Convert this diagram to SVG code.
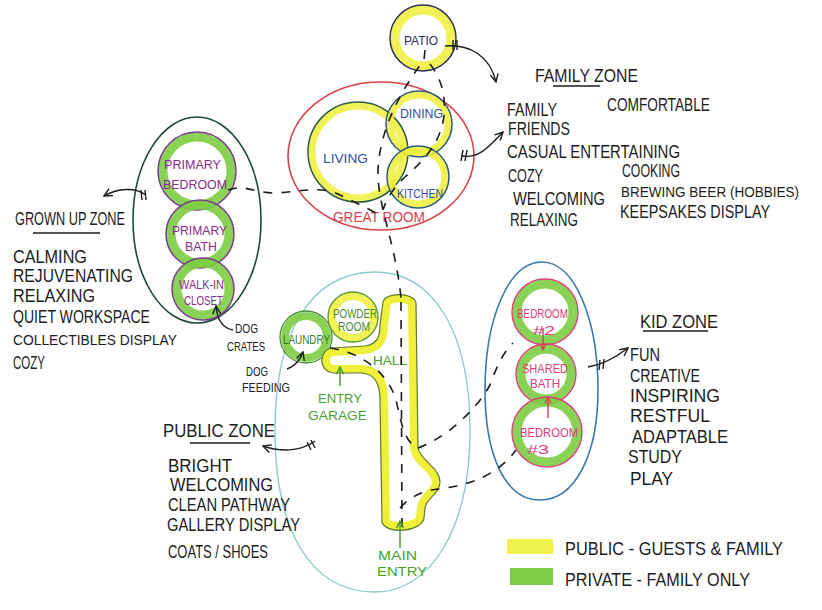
<svg xmlns="http://www.w3.org/2000/svg" width="822" height="610" viewBox="0 0 822 610">
<defs>
<style>
.h{font-family:"Liberation Sans","DejaVu Sans",sans-serif;}
.z{font-size:19px;fill:#1c1c1c;}
.r{font-size:13px;}
.dash{fill:none;stroke:#1c1c1c;stroke-width:1.6;stroke-dasharray:9 9;}
.arr{fill:none;stroke:#1c1c1c;stroke-width:1.4;marker-end:url(#ah);}
.tick{stroke:#1c1c1c;stroke-width:1.4;}
.yel{fill:none;stroke:#eef03a;stroke-opacity:0.85;}
.grn{fill:none;stroke:#7ccd42;stroke-opacity:0.9;}
.ul{stroke:#1c1c1c;stroke-width:1.4;}
</style>
<marker id="ah" viewBox="0 0 10 10" refX="9" refY="5" markerWidth="10" markerHeight="10" markerUnits="userSpaceOnUse" orient="auto"><path d="M1,1 L9,5 L1,9" fill="none" stroke="#1c1c1c" stroke-width="1.4"/></marker>
<marker id="ahr" viewBox="0 0 10 10" refX="9" refY="5" markerWidth="8" markerHeight="8" markerUnits="userSpaceOnUse" orient="auto"><path d="M1,1 L9,5 L1,9" fill="none" stroke="#d84058" stroke-width="1.5"/></marker>
<marker id="ahg" viewBox="0 0 10 10" refX="9" refY="5" markerWidth="9" markerHeight="9" markerUnits="userSpaceOnUse" orient="auto"><path d="M1,1 L9,5 L1,9" fill="none" stroke="#3f9a2c" stroke-width="1.5"/></marker>
<clipPath id="hallclip"><path id="hallp" d="M383,302 C385,292 414,292 416,303 L418,448 C420,460 440,468 440,482 C440,494 426,498 425,508 L424,518 C422,532 386,535 382,522 L380,400 C380,385 376,374 362,373 L335,373 C318,373 318,350 332,348 L365,346 C378,344 380,336 380,325 Z"/></clipPath>
</defs>
<rect width="822" height="610" fill="#ffffff"/>

<g id="public-zone">
<path d="M372,272 C432,270 470,330 470,430 C470,530 430,592 375,592 C310,592 275,530 275,430 C275,330 312,274 372,272 Z" fill="none" stroke="#8ccccc" stroke-width="1.4"/>
</g>
<g id="grownup-zone">
<ellipse cx="197" cy="220" rx="64" ry="103" fill="none" stroke="#1f4a38" stroke-width="1.6"/>
</g>
<g id="kid-zone">
<path d="M542,262 C575,262 598,320 598,390 C598,455 575,500 540,500 C505,500 485,455 485,390 C485,320 508,262 542,262 Z" fill="none" stroke="#3a78b0" stroke-width="1.6"/>
</g>
<g id="great-room">
<ellipse cx="381" cy="156" rx="93" ry="74" fill="none" stroke="#d8404a" stroke-width="1.6"/>
<text class="h" x="333" y="222" fill="#d8404a" font-size="14" textLength="92" lengthAdjust="spacingAndGlyphs">GREAT ROOM</text>
</g>

<g id="patio">
<circle cx="423" cy="38" r="28" class="yel" stroke-width="9"/>
<circle cx="423" cy="38" r="33" fill="none" stroke="#2a2f5a" stroke-width="1.5"/>
<text class="h r" x="404" y="45" fill="#2a2f6a" textLength="34" lengthAdjust="spacingAndGlyphs">PATIO</text>
</g>
<g id="living">
<circle cx="358" cy="152" r="46" class="yel" stroke-width="7"/>
<circle cx="358" cy="152" r="50" fill="none" stroke="#2e5a48" stroke-width="1.5"/>
<text class="h r" x="323" y="163" fill="#2b4fa0" textLength="45" lengthAdjust="spacingAndGlyphs">LIVING</text>
</g>
<g id="dining">
<circle cx="419" cy="124" r="29" class="yel" stroke-width="7"/>
<circle cx="419" cy="124" r="33" fill="none" stroke="#2f5a7a" stroke-width="1.5"/>
<text class="h r" x="400" y="118" fill="#2b4fa0" textLength="43" lengthAdjust="spacingAndGlyphs">DINING</text>
</g>
<g id="kitchen">
<circle cx="418" cy="177" r="27" class="yel" stroke-width="7"/>
<circle cx="418" cy="177" r="31" fill="none" stroke="#2f5a7a" stroke-width="1.5"/>
<text class="h r" x="397" y="198" fill="#2b4fa0" textLength="46" lengthAdjust="spacingAndGlyphs">KITCHEN</text>
</g>
<g id="primary-bedroom">
<circle cx="197" cy="171" r="34" class="grn" stroke-width="9"/>
<circle cx="197" cy="171" r="39" fill="none" stroke="#7a3a8a" stroke-width="1.5"/>
<text class="h r" x="164" y="169" fill="#8a2a8a" textLength="57" lengthAdjust="spacingAndGlyphs">PRIMARY</text>
<text class="h r" x="163" y="189" fill="#8a2a8a" textLength="64" lengthAdjust="spacingAndGlyphs">BEDROOM</text>
</g>
<g id="primary-bath">
<circle cx="200" cy="234" r="29" class="grn" stroke-width="9"/>
<circle cx="200" cy="234" r="34" fill="none" stroke="#7a3a8a" stroke-width="1.5"/>
<text class="h r" x="172" y="235" fill="#8a2a8a" textLength="55" lengthAdjust="spacingAndGlyphs">PRIMARY</text>
<text class="h r" x="185" y="251" fill="#8a2a8a" textLength="32" lengthAdjust="spacingAndGlyphs">BATH</text>
</g>
<g id="walk-in-closet">
<circle cx="203" cy="289" r="26" class="grn" stroke-width="9"/>
<circle cx="203" cy="289" r="31" fill="none" stroke="#7a3a8a" stroke-width="1.5"/>
<text class="h r" x="179" y="289" fill="#8a2a8a" textLength="45" lengthAdjust="spacingAndGlyphs">WALK-IN</text>
<text class="h r" x="184" y="305" fill="#8a2a8a" textLength="39" lengthAdjust="spacingAndGlyphs">CLOSET</text>
</g>
<g id="laundry">
<circle cx="306" cy="337" r="21" class="grn" stroke-width="8"/>
<circle cx="306" cy="337" r="26" fill="none" stroke="#4a8a3a" stroke-width="1.3"/>
<text class="h" x="283" y="344" font-size="12" fill="#3d7a2a" textLength="47" lengthAdjust="spacingAndGlyphs">LAUNDRY</text>
</g>
<g id="powder-room">
<circle cx="353" cy="317" r="21" class="yel" stroke-width="8"/>
<circle cx="353" cy="317" r="25" fill="none" stroke="#5a9a3a" stroke-width="1.3"/>
<text class="h" x="333" y="318" font-size="12" fill="#4a8a30" textLength="44" lengthAdjust="spacingAndGlyphs">POWDER</text>
<text class="h" x="338" y="331" font-size="12" fill="#4a8a30" textLength="32" lengthAdjust="spacingAndGlyphs">ROOM</text>
</g>
<g id="hall">
<use href="#hallp" fill="none" stroke="#eef03a" stroke-width="16" clip-path="url(#hallclip)"/>
<use href="#hallp" fill="none" stroke="#5e7a2c" stroke-width="1.2"/>
<text class="h r" x="373" y="365" fill="#4aa030" textLength="34" lengthAdjust="spacingAndGlyphs">HALL</text>
<text class="h r" x="318" y="403" fill="#4aa030" textLength="44" lengthAdjust="spacingAndGlyphs">ENTRY</text>
<text class="h r" x="308" y="420" fill="#4aa030" textLength="59" lengthAdjust="spacingAndGlyphs">GARAGE</text>
<text class="h r" x="378" y="560" fill="#4aa030" textLength="39" lengthAdjust="spacingAndGlyphs">MAIN</text>
<text class="h r" x="377" y="576" fill="#4aa030" textLength="50" lengthAdjust="spacingAndGlyphs">ENTRY</text>
</g>
<g id="bedroom-2">
<circle cx="545" cy="312" r="28" class="grn" stroke-width="9"/>
<circle cx="545" cy="312" r="33" fill="none" stroke="#d8407a" stroke-width="1.4"/>
<text class="h r" x="517" y="318" fill="#e03a7a" textLength="51" lengthAdjust="spacingAndGlyphs">BEDROOM</text>
<text class="h r" x="533" y="335" fill="#e03a7a" textLength="22" lengthAdjust="spacingAndGlyphs">#2</text>
</g>
<g id="shared-bath">
<circle cx="546" cy="374" r="25" class="grn" stroke-width="9"/>
<circle cx="546" cy="374" r="30" fill="none" stroke="#d8407a" stroke-width="1.4"/>
<text class="h r" x="522" y="373" fill="#e03a7a" textLength="46" lengthAdjust="spacingAndGlyphs">SHARED</text>
<text class="h r" x="530" y="388" fill="#e03a7a" textLength="30" lengthAdjust="spacingAndGlyphs">BATH</text>
</g>
<g id="bedroom-3">
<circle cx="547" cy="432" r="30" class="grn" stroke-width="9"/>
<circle cx="547" cy="432" r="35" fill="none" stroke="#d8407a" stroke-width="1.4"/>
<text class="h r" x="520" y="437" fill="#e03a7a" textLength="58" lengthAdjust="spacingAndGlyphs">BEDROOM</text>
<text class="h r" x="527" y="454" fill="#e03a7a" textLength="22" lengthAdjust="spacingAndGlyphs">#3</text>
</g>

<g id="connectors">
<path class="dash" d="M425,50 L424,60 C405,85 380,125 378,170 C377,205 395,240 401,298"/>
<path class="dash" d="M401,302 L402,528"/>
<path class="dash" d="M430,64 C441,78 446,95 444,115 C442,140 425,160 405,177 C393,188 386,200 383,210"/>
<path class="dash" d="M228,190 C245,184 255,193 275,193 C300,192 320,185 340,195 C355,202 370,210 380,215"/>
<path class="dash" d="M330,348 C360,352 388,372 396,400 C402,425 404,442 418,448"/>
<path class="dash" d="M418,448 C445,438 475,412 490,385 C497,365 505,350 513,343"/>
<path class="dash" d="M400,508 C412,495 425,490 445,488 C475,484 500,472 516,450"/>
<path class="arr" d="M445,46 C470,44 490,56 496,82"/>
<line class="tick" x1="453" y1="40" x2="453" y2="50"/><line class="tick" x1="457" y1="40" x2="457" y2="50"/>
<path class="arr" d="M462,156 C480,159 490,145 503,132"/>
<line class="tick" x1="463" y1="150" x2="461" y2="161"/><line class="tick" x1="467" y1="150" x2="465" y2="161"/>
<path class="arr" d="M146,195 C135,187 118,188 104,196"/>
<line class="tick" x1="141" y1="190" x2="142" y2="200"/><line class="tick" x1="145" y1="190" x2="146" y2="200"/>
<path class="arr" d="M315,441 C300,452 280,452 263,446"/>
<line class="tick" x1="307" y1="442" x2="311" y2="450"/><line class="tick" x1="311" y1="440" x2="315" y2="448"/>
<path class="arr" d="M588,367 C602,365 615,358 628,348"/>
<line class="tick" x1="600" y1="360" x2="599" y2="370"/><line class="tick" x1="604" y1="359" x2="603" y2="369"/>
<path class="arr" d="M233,330 C222,328 217,318 216,306"/>
<path class="arr" d="M287,369 C295,366 300,361 303,352"/>
<path d="M340,386 L340,367" fill="none" stroke="#3f9a2c" stroke-width="1.4" marker-end="url(#ahg)"/>
<path d="M400,548 L400,521" fill="none" stroke="#3f9a2c" stroke-width="1.4" marker-end="url(#ahg)"/>
<path d="M543,328 L543,350" fill="none" stroke="#d84058" stroke-width="1.4" marker-end="url(#ahr)"/>
<path d="M548,418 L548,397" fill="none" stroke="#d84058" stroke-width="1.4" marker-end="url(#ahr)"/>
</g>

<g id="family-zone-text">
<text class="h z" x="535" y="82" textLength="103" lengthAdjust="spacingAndGlyphs">FAMILY ZONE</text>
<line class="ul" x1="553" y1="86" x2="600" y2="86"/>
<text class="h z" x="507" y="116" textLength="50" lengthAdjust="spacingAndGlyphs">FAMILY</text>
<text class="h z" x="607" y="111" textLength="103" lengthAdjust="spacingAndGlyphs">COMFORTABLE</text>
<text class="h z" x="508" y="135" textLength="62" lengthAdjust="spacingAndGlyphs">FRIENDS</text>
<text class="h z" x="507" y="158" textLength="173" lengthAdjust="spacingAndGlyphs">CASUAL ENTERTAINING</text>
<text class="h z" x="508" y="182" textLength="35" lengthAdjust="spacingAndGlyphs">COZY</text>
<text class="h z" x="513" y="205" textLength="92" lengthAdjust="spacingAndGlyphs">WELCOMING</text>
<text class="h z" x="510" y="226" textLength="68" lengthAdjust="spacingAndGlyphs">RELAXING</text>
<text class="h z" x="622" y="177" textLength="58" lengthAdjust="spacingAndGlyphs">COOKING</text>
<text class="h" x="621" y="197" font-size="15" fill="#1c1c1c" textLength="178" lengthAdjust="spacingAndGlyphs">BREWING BEER (HOBBIES)</text>
<text class="h z" x="620" y="218" textLength="150" lengthAdjust="spacingAndGlyphs">KEEPSAKES DISPLAY</text>
</g>
<g id="grownup-zone-text">
<text class="h z" x="15" y="225" textLength="110" lengthAdjust="spacingAndGlyphs">GROWN UP ZONE</text>
<line class="ul" x1="33" y1="233" x2="100" y2="233"/>
<text class="h z" x="13" y="263" textLength="74" lengthAdjust="spacingAndGlyphs">CALMING</text>
<text class="h z" x="13" y="282" textLength="120" lengthAdjust="spacingAndGlyphs">REJUVENATING</text>
<text class="h z" x="13" y="302" textLength="82" lengthAdjust="spacingAndGlyphs">RELAXING</text>
<text class="h z" x="13" y="323" textLength="137" lengthAdjust="spacingAndGlyphs">QUIET WORKSPACE</text>
<text class="h" x="13" y="345" font-size="15" fill="#1c1c1c" textLength="164" lengthAdjust="spacingAndGlyphs">COLLECTIBLES DISPLAY</text>
<text class="h z" x="13" y="369" textLength="32" lengthAdjust="spacingAndGlyphs">COZY</text>
<text class="h" x="235" y="333" font-size="13" fill="#1c1c1c" textLength="23" lengthAdjust="spacingAndGlyphs">DOG</text>
<text class="h" x="227" y="351" font-size="13" fill="#1c1c1c" textLength="38" lengthAdjust="spacingAndGlyphs">CRATES</text>
<text class="h" x="246" y="376" font-size="13" fill="#1c1c1c" textLength="22" lengthAdjust="spacingAndGlyphs">DOG</text>
<text class="h" x="242" y="392" font-size="13" fill="#1c1c1c" textLength="48" lengthAdjust="spacingAndGlyphs">FEEDING</text>
</g>
<g id="public-zone-text">
<text class="h z" x="163" y="437" textLength="112" lengthAdjust="spacingAndGlyphs">PUBLIC ZONE</text>
<line class="ul" x1="190" y1="443" x2="250" y2="443"/>
<text class="h z" x="168" y="472" textLength="64" lengthAdjust="spacingAndGlyphs">BRIGHT</text>
<text class="h z" x="170" y="491" textLength="103" lengthAdjust="spacingAndGlyphs">WELCOMING</text>
<text class="h z" x="168" y="511" textLength="122" lengthAdjust="spacingAndGlyphs">CLEAN PATHWAY</text>
<text class="h z" x="167" y="531" textLength="133" lengthAdjust="spacingAndGlyphs">GALLERY DISPLAY</text>
<text class="h z" x="168" y="558" textLength="100" lengthAdjust="spacingAndGlyphs">COATS / SHOES</text>
</g>
<g id="kid-zone-text">
<text class="h z" x="640" y="328" textLength="78" lengthAdjust="spacingAndGlyphs">KID ZONE</text>
<line class="ul" x1="643" y1="331" x2="708" y2="331"/>
<text class="h z" x="630" y="361" textLength="30" lengthAdjust="spacingAndGlyphs">FUN</text>
<text class="h z" x="630" y="382" textLength="70" lengthAdjust="spacingAndGlyphs">CREATIVE</text>
<text class="h z" x="630" y="402" textLength="90" lengthAdjust="spacingAndGlyphs">INSPIRING</text>
<text class="h z" x="630" y="422" textLength="80" lengthAdjust="spacingAndGlyphs">RESTFUL</text>
<text class="h z" x="632" y="443" textLength="96" lengthAdjust="spacingAndGlyphs">ADAPTABLE</text>
<text class="h z" x="628" y="463" textLength="54" lengthAdjust="spacingAndGlyphs">STUDY</text>
<text class="h z" x="630" y="485" textLength="43" lengthAdjust="spacingAndGlyphs">PLAY</text>
</g>
<g id="legend">
<rect x="507" y="539" width="46" height="15" fill="#eef03a" opacity="0.9"/>
<rect x="510" y="568" width="43" height="17" fill="#7ccd42"/>
<text class="h z" x="565" y="555" textLength="218" lengthAdjust="spacingAndGlyphs">PUBLIC - GUESTS &amp; FAMILY</text>
<text class="h z" x="565" y="586" textLength="185" lengthAdjust="spacingAndGlyphs">PRIVATE - FAMILY ONLY</text>
</g>
</svg>
